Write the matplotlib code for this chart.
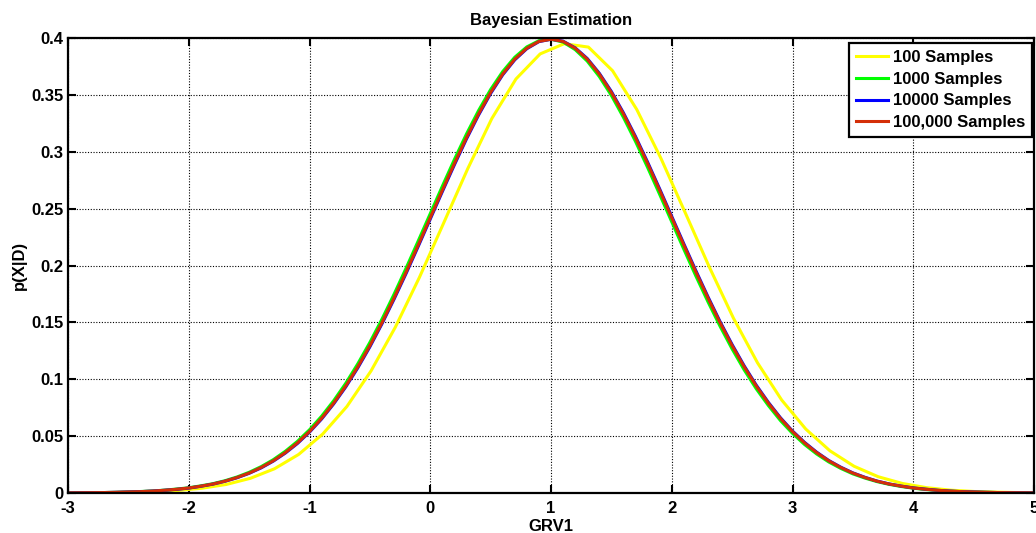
import numpy as np
from matplotlib import pyplot as plt

plt.rcParams['font.family'] = ['Liberation Sans', 'DejaVu Sans']
plt.rcParams['font.weight'] = 'bold'

# x grid for the smooth curves (step 0.1 from -3 to 5)
x_fine = np.round(np.arange(-3.0, 5.0001, 0.1), 2)

# 100 samples: coarse, piecewise-linear estimate
x_100 = [-3.0, -2.89, -2.69, -2.49, -2.29, -2.09, -1.89, -1.69, -1.49, -1.29, -1.09,
         -0.89, -0.69, -0.49, -0.29, -0.09, 0.11, 0.31, 0.51, 0.71, 0.91,
         1.11, 1.31, 1.51, 1.71, 1.91, 2.11, 2.31, 2.51, 2.71, 2.91,
         3.11, 3.31, 3.51, 3.71, 3.91, 4.11, 4.31, 4.51, 4.71, 4.91, 5.0]
p_100 = [0.0001, 0.0001, 0.0003, 0.0006, 0.0012, 0.0022, 0.0042, 0.0075, 0.0129, 0.0213, 0.0339,
         0.0519, 0.0761, 0.1074, 0.1456, 0.1895, 0.2371, 0.2850, 0.3292, 0.3640, 0.3860,
         0.3950, 0.3920, 0.3712, 0.3372, 0.2943, 0.2468, 0.1989, 0.1539, 0.1145, 0.0818,
         0.0562, 0.0371, 0.0235, 0.0143, 0.0084, 0.0047, 0.0025, 0.0013, 0.0007, 0.0003, 0.0002]

p_1000 = [0.0001, 0.0002, 0.0003, 0.0004, 0.0006, 0.0009, 0.0013, 0.0018, 0.0025, 0.0035,
          0.0046, 0.0063, 0.0082, 0.0108, 0.0141, 0.0182, 0.0232, 0.0293, 0.0367, 0.0454,
          0.0556, 0.0675, 0.0811, 0.0964, 0.1136, 0.1324, 0.1528, 0.1747, 0.1977, 0.2215,
          0.2456, 0.2697, 0.2932, 0.3156, 0.3362, 0.3547, 0.3705, 0.3831, 0.3922, 0.3976,
          0.3989,
          0.3964, 0.3898, 0.3797, 0.3661, 0.3495, 0.3302, 0.3090, 0.2862, 0.2625, 0.2384,
          0.2143, 0.1907, 0.1681, 0.1466, 0.1266, 0.1082, 0.0916, 0.0769, 0.0637, 0.0524,
          0.0426, 0.0343, 0.0273, 0.0216, 0.0168, 0.0131, 0.0100, 0.0076, 0.0057, 0.0042,
          0.0031, 0.0023, 0.0016, 0.0011, 0.0008, 0.0006, 0.0004, 0.0003, 0.0002, 0.0001]

p_10000 = [0.0001, 0.0002, 0.0003, 0.0004, 0.0006, 0.0009, 0.0012, 0.0017, 0.0024, 0.0032,
           0.0043, 0.0059, 0.0078, 0.0103, 0.0134, 0.0173, 0.0221, 0.0280, 0.0351, 0.0435,
           0.0535, 0.0650, 0.0783, 0.0932, 0.1100, 0.1285, 0.1487, 0.1703, 0.1930, 0.2167,
           0.2408, 0.2649, 0.2885, 0.3112, 0.3322, 0.3512, 0.3676, 0.3808, 0.3906, 0.3968,
           0.3989,
           0.3972, 0.3914, 0.3820, 0.3690, 0.3530, 0.3342, 0.3134, 0.2909, 0.2673, 0.2432,
           0.2191, 0.1954, 0.1725, 0.1507, 0.1305, 0.1118, 0.0948, 0.0797, 0.0662, 0.0545,
           0.0445, 0.0359, 0.0286, 0.0227, 0.0177, 0.0138, 0.0105, 0.0080, 0.0061, 0.0045,
           0.0034, 0.0024, 0.0017, 0.0012, 0.0009, 0.0006, 0.0004, 0.0003, 0.0002, 0.0001]

p_100000 = [0.0001, 0.0002, 0.0003, 0.0004, 0.0006, 0.0009, 0.0012, 0.0017, 0.0024, 0.0033,
            0.0044, 0.0060, 0.0079, 0.0104, 0.0136, 0.0175, 0.0224, 0.0283, 0.0355, 0.0440,
            0.0540, 0.0656, 0.0790, 0.0940, 0.1109, 0.1295, 0.1497, 0.1714, 0.1942, 0.2179,
            0.2420, 0.2661, 0.2897, 0.3123, 0.3332, 0.3521, 0.3683, 0.3814, 0.3910, 0.3970,
            0.3989,
            0.3970, 0.3910, 0.3814, 0.3683, 0.3521, 0.3332, 0.3123, 0.2897, 0.2661, 0.2420,
            0.2179, 0.1942, 0.1714, 0.1497, 0.1295, 0.1109, 0.0940, 0.0790, 0.0656, 0.0540,
            0.0440, 0.0355, 0.0283, 0.0224, 0.0175, 0.0136, 0.0104, 0.0079, 0.0060, 0.0044,
            0.0033, 0.0024, 0.0017, 0.0012, 0.0009, 0.0006, 0.0004, 0.0003, 0.0002, 0.0001]

labels = ["100 Samples", "1000 Samples", "10000 Samples", "100,000 Samples"]
colors = ["#ffff00", "#00ff00", "#0000ff", "#d42f08"]

x_ticks = [-3, -2, -1, 0, 1, 2, 3, 4, 5]
y_ticks = [0, 0.05, 0.1, 0.15, 0.2, 0.25, 0.3, 0.35, 0.4]
y_ticklabels = ["0", "0.05", "0.1", "0.15", "0.2", "0.25", "0.3", "0.35", "0.4"]

fs = 12

fig = plt.figure(figsize=(10.36, 5.33), dpi=100)
ax = fig.add_axes([68 / 1036, 40 / 533, 966 / 1036, 455 / 533])

ax.plot(x_100, p_100, color=colors[0], lw=2.2, label=labels[0])
ax.plot(x_fine, p_1000, color=colors[1], lw=2.2, label=labels[1])
ax.plot(x_fine, p_10000, color=colors[2], lw=2.2, label=labels[2])
ax.plot(x_fine, p_100000, color=colors[3], lw=2.2, label=labels[3])

ax.set_xlim(-3, 5)
ax.set_ylim(0, 0.4)
ax.set_xticks(x_ticks)
ax.set_xticklabels([str(t) for t in x_ticks], fontsize=fs, fontweight='bold')
ax.set_yticks(y_ticks)
ax.set_yticklabels(y_ticklabels, fontsize=fs, fontweight='bold')
ax.tick_params(direction='in', length=6, width=1.5, top=True, right=True)
ax.tick_params(axis='x', pad=5.5)
ax.tick_params(axis='y', pad=3)
ax.grid(True, color='black', linestyle=(0, (1, 1.5)), linewidth=0.8)
for sp in ax.spines.values():
    sp.set_linewidth(1.6)

ax.set_title("Bayesian Estimation", fontsize=fs, fontweight='bold', pad=9.5)
ax.set_xlabel("GRV1", fontsize=fs, fontweight='bold', labelpad=2.5)
ax.set_ylabel("p(X|D)", fontsize=fs, fontweight='bold', labelpad=3)

leg = ax.legend(loc='upper right', bbox_to_anchor=(1032 / 1036, (533 - 43) / 533),
                bbox_transform=fig.transFigure, borderaxespad=0,
                handlelength=1.9, handletextpad=0.3,
                labelspacing=0.4, borderpad=0.42, fancybox=False,
                framealpha=1, edgecolor='black', prop={'weight': 'bold', 'size': fs})
leg.get_frame().set_linewidth(1.6)

plt.savefig("out.png", dpi=100)
